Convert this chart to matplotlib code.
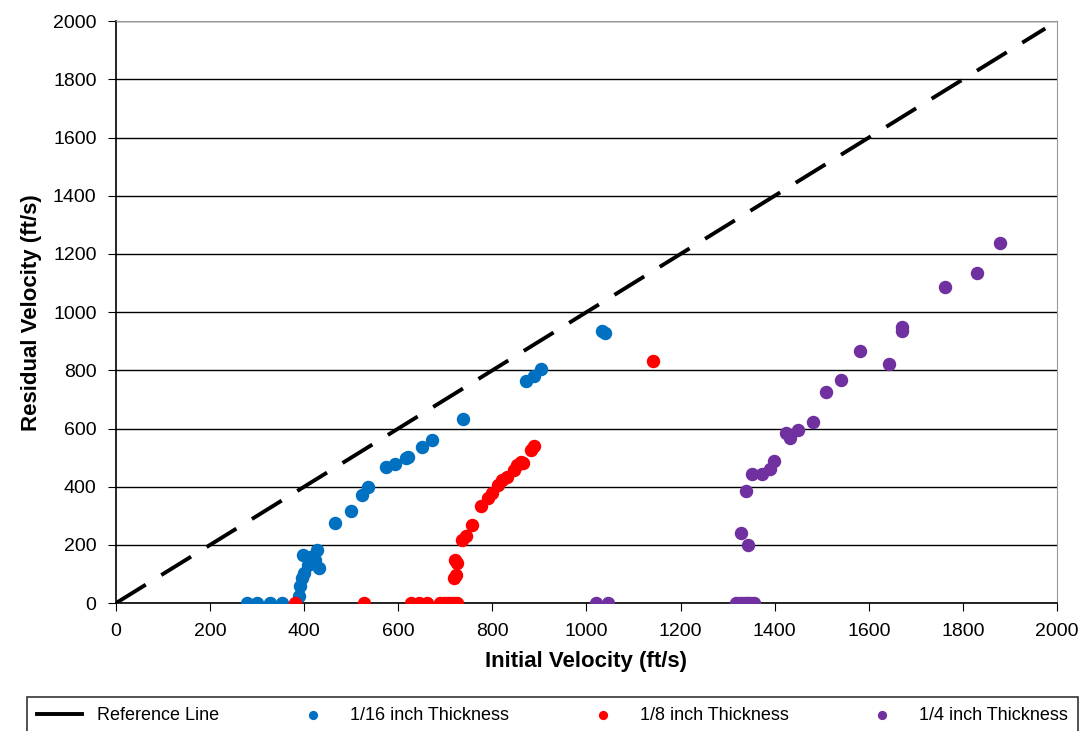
import matplotlib.pyplot as plt

plt.rcParams['font.family'] = ['Liberation Sans', 'DejaVu Sans']

# reference line y = x
ref_x = [0, 1975]
ref_y = [0, 1975]

# 1/16 inch thickness
x_16 = [278, 300, 328, 353, 389, 391, 396, 399, 398, 413, 417, 428, 431, 424, 408,
        465, 500, 523, 535, 573, 594, 616, 620, 651, 672, 738, 871, 888, 903, 1032, 1040]
y_16 = [0, 0, 0, 0, 23, 57, 86, 103, 166, 160, 143, 183, 120, 149, 131,
        274, 316, 372, 400, 469, 477, 497, 503, 535, 560, 632, 763, 780, 806, 934, 930]

# 1/8 inch thickness
x_8 = [381, 527, 626, 644, 662, 688, 698, 705, 712, 718, 724, 718, 722, 720, 724,
       736, 743, 756, 776, 790, 800, 811, 821, 832, 846, 853, 860, 866, 881, 889, 1142]
y_8 = [0, 0, 0, 0, 0, 0, 0, 0, 0, 0, 0, 86, 96, 149, 137,
       217, 232, 269, 332, 360, 380, 405, 423, 434, 457, 474, 486, 480, 526, 540, 831]

# 1/4 inch thickness
x_4 = [1021, 1045, 1318, 1326, 1332, 1338, 1344, 1350, 1355, 1328, 1344, 1339, 1351,
       1373, 1389, 1398, 1425, 1432, 1450, 1481, 1509, 1540, 1582, 1644, 1671, 1671,
       1763, 1830, 1878]
y_4 = [0, 0, 0, 0, 0, 0, 0, 0, 0, 242, 198, 386, 442,
       442, 461, 489, 585, 566, 595, 623, 724, 766, 866, 823, 935, 948,
       1086, 1135, 1237]

fig = plt.figure(figsize=(10.87, 7.31), dpi=100)
ax = fig.add_axes([0.1067, 0.175, 0.8657, 0.796])

ax.plot(ref_x, ref_y, color='black', lw=2.8, dashes=(9, 4.7), label='Reference Line')
ax.scatter(x_16, y_16, s=75, color='#0070C0', label='1/16 inch Thickness', zorder=3)
ax.scatter(x_8, y_8, s=75, color='#FF0000', label='1/8 inch Thickness', zorder=3)
ax.scatter(x_4, y_4, s=75, color='#7030A0', label='1/4 inch Thickness', zorder=3)

ax.set_xlim(0, 2000)
ax.set_ylim(0, 2000)
ax.set_xticks(range(0, 2001, 200))
ax.set_yticks(range(0, 2001, 200))
ax.yaxis.grid(True, color='black', lw=1)
ax.set_axisbelow(True)
ax.tick_params(direction='out', length=6, labelsize=14, pad=8)
for s in ['top', 'right']:
    ax.spines[s].set_color('#999999')
ax.spines['left'].set_linewidth(1.2)
ax.spines['bottom'].set_linewidth(1.2)

ax.set_xlabel('Initial Velocity (ft/s)', fontsize=16, fontweight='bold', labelpad=8)
ax.set_ylabel('Residual Velocity (ft/s)', fontsize=16, fontweight='bold', labelpad=8)

# legend box hangs off the bottom edge like in the original
leg = fig.legend(loc='upper left', bbox_to_anchor=(0.025, 0.0465, 0.967, 0.0),
                 mode='expand', ncol=4, frameon=True, fancybox=False,
                 edgecolor='black', fontsize=13, markerscale=0.65,
                 handlelength=2.5, borderaxespad=0, borderpad=0.55)
leg.get_frame().set_linewidth(1.2)
# solid line in the legend key, as in the original
leg.get_lines()[0].set_linestyle('-')

fig.savefig('out.png', dpi=100)
